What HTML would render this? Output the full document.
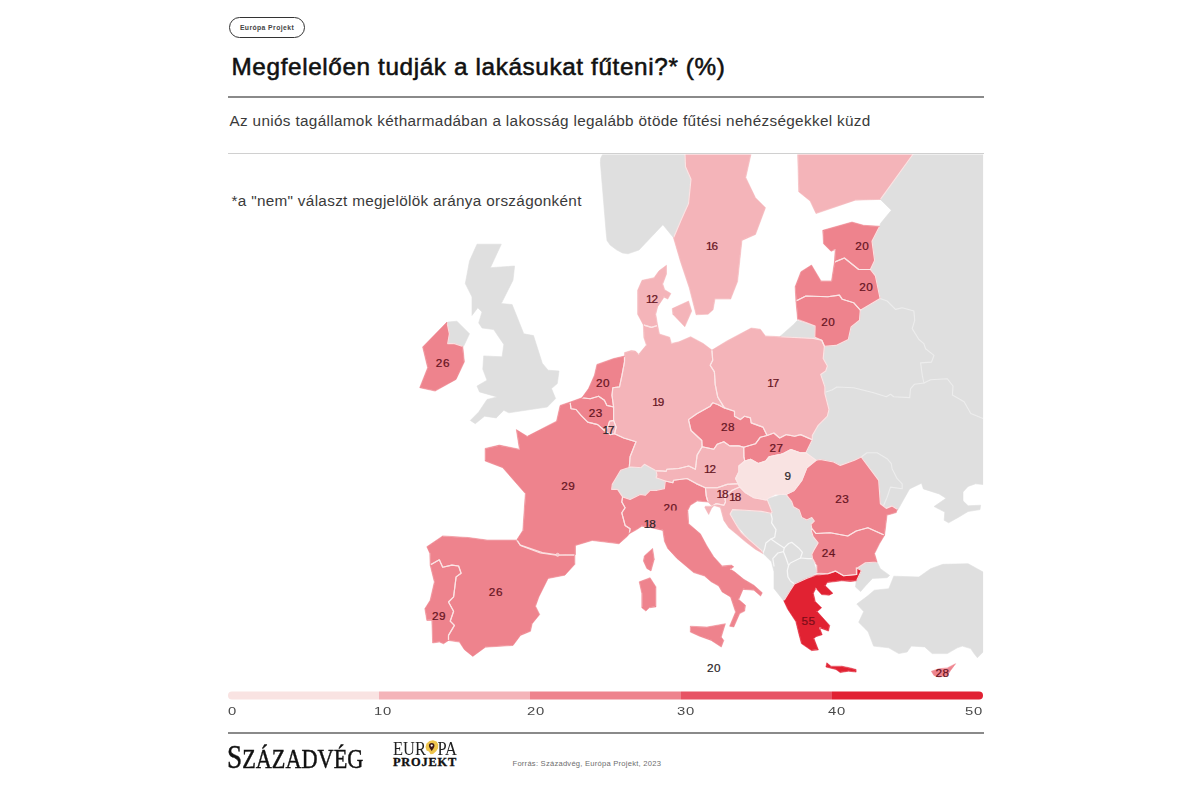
<!DOCTYPE html>
<html lang="hu"><head><meta charset="utf-8"><title>Megfelelően tudják a lakásukat fűteni?</title>
<style>
html,body{margin:0;padding:0;background:#fff;}
body{width:1200px;height:795px;position:relative;overflow:hidden;font-family:"Liberation Sans",sans-serif;color:#222;}
svg text{font-family:"Liberation Sans",sans-serif;}
.abs{position:absolute;white-space:nowrap;line-height:1;}
.pill{left:229px;top:17px;width:74px;height:19px;border:1px solid #333;border-radius:11px;}
.pilltxt{left:229px;top:17px;width:76px;height:21px;line-height:21px;text-align:center;font-size:6.8px;font-weight:bold;color:#444;letter-spacing:0.42px;}
.title{left:231.5px;top:55px;font-size:24.3px;font-weight:normal;color:#111;letter-spacing:0.62px;-webkit-text-stroke:0.55px #111;}
.r1{left:228px;top:96px;width:756px;height:2px;background:#8a8a8a;}
.sub{left:229.5px;top:113px;font-size:15.3px;color:#3a3a3a;letter-spacing:0.33px;}
.r2{left:228px;top:153.2px;width:756px;height:1.2px;background:#d0d0d0;}
.note{left:231.5px;top:193px;font-size:15.3px;color:#3a3a3a;letter-spacing:0.31px;}
.lg{top:706.2px;font-size:11.4px;color:#4a4a4a;letter-spacing:0.6px;transform:scaleX(1.3);transform-origin:0 0;}
.r3{left:228px;top:731.5px;width:756px;height:2px;background:#8a8a8a;}
.src{left:512.5px;top:760px;font-size:7.6px;color:#6e6e6e;letter-spacing:0.24px;}
.szv{left:227.3px;top:740.6px;font-family:"Liberation Serif",serif;color:#111;transform-origin:0 0;transform:scaleX(0.825);-webkit-text-stroke:0.45px #111;}
.ep1{left:392.5px;top:739.5px;font-family:"Liberation Serif",serif;font-size:18px;color:#222;transform-origin:0 0;transform:scaleX(0.915);}
.ep2{left:393px;top:756.2px;font-family:"Liberation Serif",serif;font-weight:bold;font-size:12.4px;color:#111;letter-spacing:0.78px;transform-origin:0 0;-webkit-text-stroke:0.35px #111;}
</style></head><body>
<svg width="1200" height="795" viewBox="0 0 1200 795" style="position:absolute;left:0;top:0">
<defs><clipPath id="mc"><rect x="228" y="154.5" width="755.2" height="530"/></clipPath><filter id="sf" x="-2%" y="-2%" width="104%" height="104%"><feGaussianBlur stdDeviation="0.45"/></filter></defs>
<defs><filter id="er" x="0" y="0" width="100%" height="100%" filterUnits="userSpaceOnUse"><feMorphology operator="erode" radius="1.1"/></filter>
<mask id="lm" maskUnits="userSpaceOnUse" x="0" y="0" width="1200" height="795"><g filter="url(#er)">
<polygon points="603.2,153.0 600.6,158.5 600.4,163.0 606.2,233.0 607.0,240.6 610.1,245.0 616.5,249.8 622.5,253.0 628.0,253.8 639.0,250.0 662.9,224.7 673.3,237.5 681.0,220.3 688.5,203.6 691.0,179.3 685.5,166.7 684.9,153.0" fill="#fff" stroke="#fff" stroke-width="0.8"/>
<polygon points="913.9,153.0 983.1,153.0 983.1,484.5 975.6,483.8 968.1,486.4 963.0,492.0 963.0,500.8 968.1,505.8 980.6,505.2 980.0,509.6 968.1,511.5 958.6,517.2 948.6,522.8 944.2,520.3 944.8,512.1 934.1,506.5 946.0,498.3 939.1,493.9 923.4,488.9 921.5,483.2 909.6,488.9 897.6,510.3 892.0,513.0 882.0,513.0 876.0,500.0 860.0,470.0 822.0,470.0 800.0,448.0 806.0,432.0 815.0,412.0 815.0,372.0 815.0,342.0 850.0,325.0 858.0,310.0 878.0,298.5 873.4,275.5 868.4,269.7 872.6,260.5 870.0,241.2 879.6,227.0 880.4,223.6 891.3,210.3 880.4,199.4" fill="#fff" stroke="#fff" stroke-width="0.8"/>
<polygon points="779.7,336.7 793.9,324.2 797.2,320.6 815.1,326.1 814.8,337.3 821.8,340.3 813.1,338.4" fill="#fff" stroke="#fff" stroke-width="0.8"/>
<polygon points="477.0,244.2 501.3,244.2 490.4,267.7 514.6,266.0 513.0,280.2 501.3,303.6 512.1,304.5 523.8,333.8 533.5,335.6 542.3,363.3 548.1,370.2 559.0,371.0 557.3,383.6 551.5,388.6 555.6,398.6 547.3,407.0 508.8,412.8 503.8,410.3 496.2,417.9 484.5,416.2 475.3,423.7 470.3,420.4 478.7,412.0 487.0,399.5 497.1,396.9 479.5,391.9 477.0,386.1 487.0,380.2 482.8,369.3 483.7,355.9 502.1,356.8 503.8,344.4 493.7,329.6 482.0,327.9 478.7,322.9 482.0,312.0 477.8,307.8 472.0,315.4 472.0,296.9 465.3,283.6 469.5,261.0" fill="#fff" stroke="#fff" stroke-width="0.8"/>
<polygon points="447.7,322.1 456.9,321.2 469.5,333.8 463.6,346.3 454.4,343.6 447.7,343.6 449.4,333.8" fill="#fff" stroke="#fff" stroke-width="0.8"/>
<polygon points="611.7,489.4 612.3,484.4 620.7,470.2 628.2,467.7 641.0,467.7 644.4,464.3 655.2,470.2 656.1,471.0 656.9,475.2 656.1,477.7 665.3,481.0 664.4,488.6 656.9,490.3 650.2,490.3 645.2,495.3 640.2,494.4 630.1,499.5 622.6,496.9 617.6,489.4" fill="#fff" stroke="#fff" stroke-width="0.8"/>
<polygon points="730.0,509.0 770.0,498.0 790.0,492.0 800.0,508.0 816.0,516.0 816.0,530.0 820.0,543.0 812.0,556.0 817.0,573.0 807.1,578.2 794.5,583.9 790.1,590.8 783.8,600.9 774.0,588.5 774.0,571.8 771.5,561.8 763.1,553.4 750.0,541.0 735.0,523.0 728.0,514.0" fill="#fff" stroke="#fff" stroke-width="0.8"/>
<polygon points="856.8,568.2 857.8,567.8 865.4,562.8 877.1,562.0 880.4,568.7 889.6,575.4 887.1,577.7 872.5,578.4 865.6,585.8 860.6,591.6 855.5,587.0 856.2,580.8 860.6,570.7" fill="#fff" stroke="#fff" stroke-width="0.8"/>
<polygon points="893.8,576.2 918.9,577.0 930.6,568.7 942.9,564.3 968.1,563.7 983.1,572.0 983.1,652.0 977.4,657.8 974.1,653.6 970.7,648.6 962.3,646.1 957.3,647.8 947.3,653.6 932.2,653.6 924.7,646.9 911.3,646.1 907.1,652.0 898.7,653.6 888.7,647.8 873.6,646.1 868.1,631.7 858.7,622.3 863.7,611.6 856.8,604.0 866.9,596.5 874.4,590.2 888.8,588.7" fill="#fff" stroke="#fff" stroke-width="0.8"/>
<polygon points="684.9,153.0 685.5,166.7 691.0,179.3 688.5,203.6 681.0,220.3 673.5,237.9 680.4,261.4 689.2,287.8 696.1,314.8 708.1,314.2 713.1,309.8 715.0,299.1 730.7,299.1 737.6,281.5 742.0,240.4 755.5,234.5 765.5,207.7 755.5,197.7 745.8,177.6 751.3,153.0" fill="#fff" stroke="#fff" stroke-width="0.8"/>
<polygon points="797.6,153.0 798.7,191.8 810.1,201.0 816.0,213.6 855.3,200.2 880.4,199.4 913.9,153.0" fill="#fff" stroke="#fff" stroke-width="0.8"/>
<polygon points="822.7,230.3 852.0,222.0 863.7,225.3 879.6,226.2 872.0,241.2 874.6,260.5 870.4,269.5 858.7,269.5 844.4,258.0 834.4,262.1 835.2,249.6 831.0,251.3 823.5,243.7" fill="#fff" stroke="#fff" stroke-width="0.8"/>
<polygon points="795.9,301.0 795.1,286.8 800.9,271.7 811.5,265.0 821.0,280.9 831.5,280.9 834.4,262.1 844.4,258.0 858.7,269.5 870.4,269.5 875.4,275.9 880.1,298.5 860.3,310.2 853.6,302.7 842.3,299.3 839.4,295.1 827.7,296.8 805.9,296.0" fill="#fff" stroke="#fff" stroke-width="0.8"/>
<polygon points="795.9,301.0 805.9,296.0 827.7,296.8 839.4,295.1 842.3,299.3 853.6,302.7 860.3,310.2 859.5,320.3 851.1,326.9 848.3,339.5 836.1,345.4 824.4,346.2 821.8,340.3 814.8,337.3 815.1,326.1 797.6,319.4" fill="#fff" stroke="#fff" stroke-width="0.8"/>
<polygon points="711.9,350.1 726.9,340.9 751.2,328.0 760.4,329.2 765.4,335.9 779.7,336.7 813.1,338.4 821.8,340.3 824.4,346.2 823.2,358.5 827.4,366.0 825.7,371.0 820.7,374.4 824.9,386.9 824.9,393.6 829.0,409.5 827.4,416.2 818.2,425.4 812.3,435.5 812.3,439.7 800.6,434.6 794.7,436.3 786.4,434.6 779.7,438.0 773.8,433.0 767.1,435.5 762.9,427.1 751.2,422.9 750.4,417.9 744.5,416.2 740.3,419.6 734.5,416.2 734.5,411.2 724.4,407.9 717.7,397.0 715.2,384.4 714.4,371.9 710.2,365.2 712.7,360.2" fill="#fff" stroke="#fff" stroke-width="0.8"/>
<polygon points="624.5,352.6 631.2,350.5 635.4,351.0 638.7,354.3 646.3,345.1 643.8,337.6 643.3,324.9 651.4,327.4 657.7,325.5 659.5,334.0 669.7,337.2 671.4,343.4 678.9,341.8 690.6,336.7 703.2,343.4 711.9,350.1 712.7,360.2 710.2,365.2 714.4,371.9 715.2,384.4 717.7,397.0 724.4,407.9 717.7,404.5 712.7,402.8 710.2,406.2 696.8,413.7 688.5,419.6 691.0,430.5 701.8,440.5 702.1,446.7 697.1,455.1 695.4,469.3 688.7,466.0 678.7,468.5 666.9,469.3 666.1,471.0 655.2,470.2 644.4,464.3 641.0,467.7 629.3,466.8 630.1,456.8 636.0,441.7 623.7,438.0 614.5,433.8 616.2,427.1 613.6,420.4 613.6,407.0 612.0,395.3 612.8,387.8 619.5,386.9 622.0,375.2 624.5,361.8" fill="#fff" stroke="#fff" stroke-width="0.8"/>
<polygon points="666.5,265.2 666.5,274.0 662.8,284.0 664.7,289.7 670.9,293.5 667.8,299.1 664.0,297.2 657.7,306.7 655.8,314.2 657.7,325.5 651.4,327.4 643.3,324.9 637.6,314.2 637.6,290.3 642.0,280.3 654.0,277.7 659.0,270.8" fill="#fff" stroke="#fff" stroke-width="0.8"/>
<polygon points="672.2,308.6 688.6,301.0 691.7,311.1 684.8,326.8 672.8,314.2" fill="#fff" stroke="#fff" stroke-width="0.8"/>
<polygon points="624.5,356.0 613.6,358.5 596.9,364.4 594.4,375.2 588.5,388.6 581.8,397.8 590.2,398.7 598.6,396.2 604.4,400.3 606.9,405.4 613.6,407.0 612.0,395.3 612.8,387.8 619.5,386.9 622.0,375.2 624.5,361.8" fill="#fff" stroke="#fff" stroke-width="0.8"/>
<polygon points="581.8,397.8 570.1,402.0 571.0,408.7 576.0,409.5 581.0,415.4 587.7,422.1 597.7,424.6 604.4,430.5 607.8,427.1 609.5,421.3 613.6,420.4 613.6,407.0 606.9,405.4 604.4,400.3 598.6,396.2 590.2,398.7" fill="#fff" stroke="#fff" stroke-width="0.8"/>
<polygon points="609.5,421.3 613.6,420.4 616.2,427.1 614.5,433.8 610.3,434.6 604.4,430.5 607.8,427.1" fill="#fff" stroke="#fff" stroke-width="0.8"/>
<polygon points="570.1,402.0 560.1,405.4 556.5,421.2 527.2,436.3 516.3,429.6 519.4,449.2 499.3,445.1 485.1,448.4 485.1,461.0 502.7,467.7 513.6,480.2 525.3,493.6 522.8,530.4 516.9,539.6 520.3,545.5 540.3,553.0 556.2,555.2 575.5,554.7 575.5,545.5 592.2,540.5 619.0,543.8 627.4,536.3 629.3,533.8 630.1,528.7 625.1,525.4 621.8,512.8 625.1,507.8 621.8,502.0 622.6,496.9 617.6,489.4 611.7,489.4 612.3,484.4 620.7,470.2 628.2,467.7 629.3,466.8 630.1,456.8 636.0,441.7 623.7,438.0 614.5,433.8 610.3,434.6 604.4,430.5 597.7,424.6 587.7,422.1 581.0,415.4 576.0,409.5 571.0,408.7" fill="#fff" stroke="#fff" stroke-width="0.8"/>
<polygon points="644.3,555.9 652.6,548.4 654.3,559.2 651.0,571.0 646.8,568.5 643.4,560.9" fill="#fff" stroke="#fff" stroke-width="0.8"/>
<polygon points="426.8,546.7 442.7,535.9 468.6,537.5 487.0,540.0 516.3,540.0 520.5,545.1 542.3,552.6 557.3,554.8 574.9,555.1 574.9,564.3 564.9,575.2 548.1,578.5 538.9,596.9 535.6,606.2 539.7,614.5 532.2,623.7 530.5,631.3 520.5,635.4 513.0,645.5 485.4,647.2 472.8,656.4 464.4,649.7 459.4,642.1 448.5,640.5 448.5,635.4 454.4,625.4 450.2,621.2 453.6,611.2 448.5,602.0 453.6,596.9 456.1,576.9 461.1,573.2 458.6,566.0 451.9,565.1 442.7,567.2 439.3,559.8 430.1,565.1 429.8,553.4" fill="#fff" stroke="#fff" stroke-width="0.8"/>
<polygon points="430.1,565.1 439.3,559.8 442.7,567.2 451.9,565.1 458.6,566.0 461.1,573.2 456.1,576.9 453.6,596.9 448.5,602.0 453.6,611.2 450.2,621.2 454.4,625.4 448.5,635.4 448.5,640.5 443.5,643.8 439.3,642.1 432.6,643.0 431.8,620.4 426.8,620.4 424.8,608.7 430.1,600.3 434.3,581.9" fill="#fff" stroke="#fff" stroke-width="0.8"/>
<polygon points="446.9,322.1 422.6,347.0 427.6,367.7 419.7,387.7 435.1,391.1 456.1,379.4 464.4,361.8 462.8,346.5 454.4,343.6 447.7,343.6 449.4,333.8" fill="#fff" stroke="#fff" stroke-width="0.8"/>
<polygon points="688.5,419.6 696.8,413.7 710.2,406.2 712.7,402.8 717.7,404.5 724.4,407.9 734.5,411.2 734.5,416.2 740.3,419.6 744.5,416.2 750.4,417.9 751.2,422.9 762.9,427.1 767.1,435.5 760.4,437.2 755.4,443.8 743.7,447.2 738.9,445.9 729.7,445.9 723.8,441.7 717.2,444.2 713.8,449.2 702.1,446.7 701.8,440.5 691.0,430.5" fill="#fff" stroke="#fff" stroke-width="0.8"/>
<polygon points="743.7,447.2 755.4,443.8 760.4,437.2 767.1,435.5 773.8,433.0 779.7,438.0 786.4,434.6 794.7,436.3 800.6,434.6 812.3,439.7 805.9,452.8 800.1,452.8 790.9,449.5 783.3,453.6 780.8,454.3 769.0,456.8 765.7,461.0 758.2,463.5 750.6,459.3 744.8,461.0 743.9,456.8" fill="#fff" stroke="#fff" stroke-width="0.8"/>
<polygon points="744.8,461.0 750.6,459.3 758.2,463.5 765.7,461.0 769.0,456.8 780.8,454.3 783.3,453.6 790.9,449.5 800.1,452.8 805.9,452.8 816.0,460.3 806.8,467.9 801.8,480.4 794.2,490.5 786.0,494.4 775.5,494.5 769.5,497.5 766.0,500.0 754.0,497.8 745.6,492.8 739.7,486.9 738.1,483.6 735.6,478.5 738.9,471.8 738.9,466.0" fill="#fff" stroke="#fff" stroke-width="0.8"/>
<polygon points="656.1,471.0 666.1,471.5 666.9,469.3 678.7,468.5 688.7,466.0 695.4,469.3 697.1,455.1 702.1,446.7 713.8,449.2 717.2,444.2 723.8,441.7 729.7,445.9 738.9,445.9 743.7,447.2 743.9,456.8 744.8,461.0 738.9,466.0 738.9,471.8 735.6,478.5 738.1,483.6 727.2,484.4 717.2,487.7 705.4,487.7 696.2,483.6 687.0,478.5 673.6,480.2 672.8,482.7 665.3,481.0 656.1,477.7 656.9,475.2" fill="#fff" stroke="#fff" stroke-width="0.8"/>
<polygon points="622.6,496.9 630.1,499.5 640.2,494.4 645.2,495.3 650.2,490.3 656.9,490.3 664.4,488.6 665.3,481.0 672.8,482.7 673.6,480.2 687.0,478.5 696.2,483.6 705.4,487.7 706.3,496.1 708.0,502.0 697.1,501.1 690.4,505.3 687.9,510.3 688.7,523.7 700.4,533.8 707.0,546.0 713.7,556.7 722.1,565.9 731.3,565.1 733.8,566.8 730.5,569.3 734.6,571.8 743.8,579.3 753.9,585.2 762.3,592.7 760.6,596.1 753.9,590.2 743.0,589.4 738.8,599.4 745.5,605.3 744.7,611.1 739.7,613.6 733.8,627.0 729.6,626.2 735.5,612.0 730.5,596.9 722.1,591.9 718.7,586.0 711.2,581.8 704.5,576.0 693.6,572.6 676.9,558.4 667.7,548.4 664.4,541.3 662.8,530.4 651.9,527.9 641.8,526.2 636.8,529.6 629.3,533.8 630.1,528.7 625.1,525.4 621.8,512.8 625.1,507.8 621.8,502.0" fill="#fff" stroke="#fff" stroke-width="0.8"/>
<polygon points="690.3,626.2 707.0,627.0 725.4,623.7 721.3,637.1 723.8,640.4 721.3,647.1 711.2,640.4 699.5,636.2 690.3,632.1" fill="#fff" stroke="#fff" stroke-width="0.8"/>
<polygon points="639.2,581.8 650.1,577.7 656.0,586.9 656.0,606.9 649.3,607.8 645.9,611.1 641.8,607.8 641.8,593.6" fill="#fff" stroke="#fff" stroke-width="0.8"/>
<polygon points="705.4,487.7 717.2,487.7 727.2,484.4 738.1,483.6 739.7,486.9 732.2,490.3 724.7,496.9 725.5,502.0 723.8,505.3 716.3,503.6 712.1,506.2 708.0,502.0 706.3,496.1" fill="#fff" stroke="#fff" stroke-width="0.8"/>
<polygon points="739.7,486.9 745.6,492.8 754.0,497.8 766.0,500.0 767.2,499.5 769.7,505.8 772.2,512.1 770.9,513.3 761.5,511.4 745.2,510.2 732.6,509.6 730.1,514.0 735.1,522.8 740.8,532.2 751.4,541.6 761.5,550.4 762.8,553.6 755.2,549.2 745.2,541.6 736.4,534.1 728.8,527.8 723.8,520.4 720.3,507.4 714.0,505.6 711.6,508.2 708.7,514.5 704.8,507.5 705.4,506.2 712.1,506.2 716.3,503.6 723.8,505.3 725.5,502.0 724.7,496.9 732.2,490.3" fill="#fff" stroke="#fff" stroke-width="0.8"/>
<polygon points="786.0,494.4 794.2,490.5 801.8,480.4 806.8,467.9 816.0,460.3 820.2,459.5 833.6,462.0 840.3,465.4 854.5,460.3 861.2,457.0 878.7,480.4 880.4,503.8 886.3,508.4 892.1,505.9 897.2,509.2 896.3,512.6 890.5,514.3 887.1,515.1 884.6,535.2 867.9,527.7 856.2,531.0 847.8,536.0 830.2,532.7 816.0,533.5 811.8,528.5 811.0,524.3 814.3,521.0 811.8,517.6 806.8,520.1 801.8,517.6 799.2,510.1 793.4,506.7 791.7,501.7" fill="#fff" stroke="#fff" stroke-width="0.8"/>
<polygon points="811.8,528.5 816.0,533.5 830.2,532.7 847.8,536.0 856.2,531.0 867.9,527.7 884.6,535.2 879.6,543.6 874.6,553.6 877.1,562.0 865.4,562.8 857.8,567.8 856.8,568.2 856.8,574.5 843.6,575.7 835.4,571.1 827.9,573.8 816.9,573.0 816.9,565.5 812.5,558.6 811.8,554.2 813.7,550.4 818.1,542.9 813.1,536.6 811.2,530.3" fill="#fff" stroke="#fff" stroke-width="0.8"/>
<polygon points="783.8,600.9 790.1,590.8 794.5,583.9 807.1,578.2 815.9,575.1 827.9,573.8 835.4,571.1 843.6,575.7 856.4,574.5 856.2,567.7 861.4,570.5 856.6,580.8 850.5,581.4 841.7,580.8 827.2,582.6 825.3,585.8 832.9,593.3 829.1,595.2 821.6,594.6 815.9,588.3 813.4,593.3 815.3,601.5 821.6,607.8 817.2,611.6 829.7,625.4 828.5,631.1 819.7,627.9 822.2,634.8 815.9,636.7 814.0,638.6 818.4,649.9 811.5,650.6 801.4,643.6 798.9,634.2 795.8,621.6 787.6,609.1" fill="#fff" stroke="#fff" stroke-width="0.8"/>
<polygon points="826.8,662.8 831.0,666.2 841.8,666.2 850.2,667.9 856.1,669.5 856.1,672.1 848.5,671.2 840.2,672.6 836.0,669.5 825.9,667.0" fill="#fff" stroke="#fff" stroke-width="0.8"/>
<polygon points="931.4,671.2 938.9,668.7 947.3,667.9 955.6,663.7 950.6,670.4 947.3,675.4 938.9,677.1 933.9,675.4" fill="#fff" stroke="#fff" stroke-width="0.8"/>
</g></mask></defs>
<g clip-path="url(#mc)"><g filter="url(#sf)">
<polygon points="603.2,153.0 600.6,158.5 600.4,163.0 606.2,233.0 607.0,240.6 610.1,245.0 616.5,249.8 622.5,253.0 628.0,253.8 639.0,250.0 662.9,224.7 673.3,237.5 681.0,220.3 688.5,203.6 691.0,179.3 685.5,166.7 684.9,153.0" fill="#dfdfdf" stroke="#dfdfdf" stroke-width="0.6" stroke-linejoin="round"/>
<polygon points="913.9,153.0 983.1,153.0 983.1,484.5 975.6,483.8 968.1,486.4 963.0,492.0 963.0,500.8 968.1,505.8 980.6,505.2 980.0,509.6 968.1,511.5 958.6,517.2 948.6,522.8 944.2,520.3 944.8,512.1 934.1,506.5 946.0,498.3 939.1,493.9 923.4,488.9 921.5,483.2 909.6,488.9 897.6,510.3 892.0,513.0 882.0,513.0 876.0,500.0 860.0,470.0 822.0,470.0 800.0,448.0 806.0,432.0 815.0,412.0 815.0,372.0 815.0,342.0 850.0,325.0 858.0,310.0 878.0,298.5 873.4,275.5 868.4,269.7 872.6,260.5 870.0,241.2 879.6,227.0 880.4,223.6 891.3,210.3 880.4,199.4" fill="#dfdfdf" stroke="#dfdfdf" stroke-width="0.6" stroke-linejoin="round"/>
<polygon points="779.7,336.7 793.9,324.2 797.2,320.6 815.1,326.1 814.8,337.3 821.8,340.3 813.1,338.4" fill="#dfdfdf" stroke="#dfdfdf" stroke-width="0.6" stroke-linejoin="round"/>
<polygon points="477.0,244.2 501.3,244.2 490.4,267.7 514.6,266.0 513.0,280.2 501.3,303.6 512.1,304.5 523.8,333.8 533.5,335.6 542.3,363.3 548.1,370.2 559.0,371.0 557.3,383.6 551.5,388.6 555.6,398.6 547.3,407.0 508.8,412.8 503.8,410.3 496.2,417.9 484.5,416.2 475.3,423.7 470.3,420.4 478.7,412.0 487.0,399.5 497.1,396.9 479.5,391.9 477.0,386.1 487.0,380.2 482.8,369.3 483.7,355.9 502.1,356.8 503.8,344.4 493.7,329.6 482.0,327.9 478.7,322.9 482.0,312.0 477.8,307.8 472.0,315.4 472.0,296.9 465.3,283.6 469.5,261.0" fill="#dfdfdf" stroke="#dfdfdf" stroke-width="0.6" stroke-linejoin="round"/>
<polygon points="447.7,322.1 456.9,321.2 469.5,333.8 463.6,346.3 454.4,343.6 447.7,343.6 449.4,333.8" fill="#dfdfdf" stroke="#dfdfdf" stroke-width="0.6" stroke-linejoin="round"/>
<polygon points="611.7,489.4 612.3,484.4 620.7,470.2 628.2,467.7 641.0,467.7 644.4,464.3 655.2,470.2 656.1,471.0 656.9,475.2 656.1,477.7 665.3,481.0 664.4,488.6 656.9,490.3 650.2,490.3 645.2,495.3 640.2,494.4 630.1,499.5 622.6,496.9 617.6,489.4" fill="#dfdfdf" stroke="#dfdfdf" stroke-width="0.6" stroke-linejoin="round"/>
<polygon points="730.0,509.0 770.0,498.0 790.0,492.0 800.0,508.0 816.0,516.0 816.0,530.0 820.0,543.0 812.0,556.0 817.0,573.0 807.1,578.2 794.5,583.9 790.1,590.8 783.8,600.9 774.0,588.5 774.0,571.8 771.5,561.8 763.1,553.4 750.0,541.0 735.0,523.0 728.0,514.0" fill="#dfdfdf" stroke="#dfdfdf" stroke-width="0.6" stroke-linejoin="round"/>
<polygon points="856.8,568.2 857.8,567.8 865.4,562.8 877.1,562.0 880.4,568.7 889.6,575.4 887.1,577.7 872.5,578.4 865.6,585.8 860.6,591.6 855.5,587.0 856.2,580.8 860.6,570.7" fill="#dfdfdf" stroke="#dfdfdf" stroke-width="0.6" stroke-linejoin="round"/>
<polygon points="893.8,576.2 918.9,577.0 930.6,568.7 942.9,564.3 968.1,563.7 983.1,572.0 983.1,652.0 977.4,657.8 974.1,653.6 970.7,648.6 962.3,646.1 957.3,647.8 947.3,653.6 932.2,653.6 924.7,646.9 911.3,646.1 907.1,652.0 898.7,653.6 888.7,647.8 873.6,646.1 868.1,631.7 858.7,622.3 863.7,611.6 856.8,604.0 866.9,596.5 874.4,590.2 888.8,588.7" fill="#dfdfdf" stroke="#dfdfdf" stroke-width="0.6" stroke-linejoin="round"/>
<polyline points="880.1,298.5 887.1,301.0 895.5,309.4 902.2,307.7 913.9,311.0 914.7,320.3 912.2,328.6 918.9,339.5 923.9,343.7 925.6,348.7 934.0,355.4 931.5,362.1 920.6,362.9 922.3,375.5 923.9,383.0" fill="none" stroke="#ededed" stroke-width="1.1" stroke-linejoin="round" stroke-linecap="round"/>
<polyline points="826.0,392.0 831.9,390.0 836.9,387.0 853.6,387.7 873.7,392.7 886.3,396.7 890.5,394.2 893.8,396.7 909.7,397.6 910.5,388.8 914.5,384.2 923.9,383.0 930.6,379.7 947.4,378.8 953.0,386.0 952.4,395.1 964.1,401.8 970.8,413.5 983.0,418.5" fill="none" stroke="#ededed" stroke-width="1.1" stroke-linejoin="round" stroke-linecap="round"/>
<polyline points="861.2,457.0 867.0,452.8 877.1,452.8 887.1,458.7 891.3,463.7 892.1,468.7 897.2,478.7 902.2,483.8 902.2,488.8 890.5,487.1 887.1,497.2 882.9,507.2" fill="none" stroke="#ededed" stroke-width="1.1" stroke-linejoin="round" stroke-linecap="round"/>
<polyline points="770.9,513.3 772.2,519.0 771.6,522.8 776.0,529.7 774.7,537.2 770.9,539.1 765.9,542.9 764.7,548.6 762.8,553.6" fill="none" stroke="#f7f7f7" stroke-width="1.25" stroke-linejoin="round" stroke-linecap="round"/>
<polyline points="770.9,539.1 776.6,542.9 784.2,547.9 783.5,551.7 777.9,553.0 772.8,558.6 774.0,566.0" fill="none" stroke="#f7f7f7" stroke-width="1.25" stroke-linejoin="round" stroke-linecap="round"/>
<polyline points="784.2,547.9 788.6,543.5 791.7,542.3 798.6,547.9 802.4,552.3 800.5,558.0 790.4,563.0 788.6,565.5 786.0,558.0 783.5,551.7" fill="none" stroke="#f7f7f7" stroke-width="1.25" stroke-linejoin="round" stroke-linecap="round"/>
<polyline points="800.5,558.0 808.1,558.6 812.5,558.6" fill="none" stroke="#f7f7f7" stroke-width="1.25" stroke-linejoin="round" stroke-linecap="round"/>
<polyline points="788.6,565.5 787.3,570.6 787.9,576.9 790.4,581.0 794.5,583.9" fill="none" stroke="#f7f7f7" stroke-width="1.25" stroke-linejoin="round" stroke-linecap="round"/>
<polygon points="684.9,153.0 685.5,166.7 691.0,179.3 688.5,203.6 681.0,220.3 673.5,237.9 680.4,261.4 689.2,287.8 696.1,314.8 708.1,314.2 713.1,309.8 715.0,299.1 730.7,299.1 737.6,281.5 742.0,240.4 755.5,234.5 765.5,207.7 755.5,197.7 745.8,177.6 751.3,153.0" fill="#f4b4b9" stroke="#f4b4b9" stroke-width="0.5" stroke-linejoin="round"/>
<polygon points="797.6,153.0 798.7,191.8 810.1,201.0 816.0,213.6 855.3,200.2 880.4,199.4 913.9,153.0" fill="#f4b4b9" stroke="#f4b4b9" stroke-width="0.5" stroke-linejoin="round"/>
<polygon points="822.7,230.3 852.0,222.0 863.7,225.3 879.6,226.2 872.0,241.2 874.6,260.5 870.4,269.5 858.7,269.5 844.4,258.0 834.4,262.1 835.2,249.6 831.0,251.3 823.5,243.7" fill="#ee838d" stroke="#ee838d" stroke-width="0.5" stroke-linejoin="round"/>
<polygon points="795.9,301.0 795.1,286.8 800.9,271.7 811.5,265.0 821.0,280.9 831.5,280.9 834.4,262.1 844.4,258.0 858.7,269.5 870.4,269.5 875.4,275.9 880.1,298.5 860.3,310.2 853.6,302.7 842.3,299.3 839.4,295.1 827.7,296.8 805.9,296.0" fill="#ee838d" stroke="#ee838d" stroke-width="0.5" stroke-linejoin="round"/>
<polygon points="795.9,301.0 805.9,296.0 827.7,296.8 839.4,295.1 842.3,299.3 853.6,302.7 860.3,310.2 859.5,320.3 851.1,326.9 848.3,339.5 836.1,345.4 824.4,346.2 821.8,340.3 814.8,337.3 815.1,326.1 797.6,319.4" fill="#ee838d" stroke="#ee838d" stroke-width="0.5" stroke-linejoin="round"/>
<polygon points="711.9,350.1 726.9,340.9 751.2,328.0 760.4,329.2 765.4,335.9 779.7,336.7 813.1,338.4 821.8,340.3 824.4,346.2 823.2,358.5 827.4,366.0 825.7,371.0 820.7,374.4 824.9,386.9 824.9,393.6 829.0,409.5 827.4,416.2 818.2,425.4 812.3,435.5 812.3,439.7 800.6,434.6 794.7,436.3 786.4,434.6 779.7,438.0 773.8,433.0 767.1,435.5 762.9,427.1 751.2,422.9 750.4,417.9 744.5,416.2 740.3,419.6 734.5,416.2 734.5,411.2 724.4,407.9 717.7,397.0 715.2,384.4 714.4,371.9 710.2,365.2 712.7,360.2" fill="#f4b4b9" stroke="#f4b4b9" stroke-width="0.5" stroke-linejoin="round"/>
<polygon points="624.5,352.6 631.2,350.5 635.4,351.0 638.7,354.3 646.3,345.1 643.8,337.6 643.3,324.9 651.4,327.4 657.7,325.5 659.5,334.0 669.7,337.2 671.4,343.4 678.9,341.8 690.6,336.7 703.2,343.4 711.9,350.1 712.7,360.2 710.2,365.2 714.4,371.9 715.2,384.4 717.7,397.0 724.4,407.9 717.7,404.5 712.7,402.8 710.2,406.2 696.8,413.7 688.5,419.6 691.0,430.5 701.8,440.5 702.1,446.7 697.1,455.1 695.4,469.3 688.7,466.0 678.7,468.5 666.9,469.3 666.1,471.0 655.2,470.2 644.4,464.3 641.0,467.7 629.3,466.8 630.1,456.8 636.0,441.7 623.7,438.0 614.5,433.8 616.2,427.1 613.6,420.4 613.6,407.0 612.0,395.3 612.8,387.8 619.5,386.9 622.0,375.2 624.5,361.8" fill="#f4b4b9" stroke="#f4b4b9" stroke-width="0.5" stroke-linejoin="round"/>
<polygon points="666.5,265.2 666.5,274.0 662.8,284.0 664.7,289.7 670.9,293.5 667.8,299.1 664.0,297.2 657.7,306.7 655.8,314.2 657.7,325.5 651.4,327.4 643.3,324.9 637.6,314.2 637.6,290.3 642.0,280.3 654.0,277.7 659.0,270.8" fill="#f4b4b9" stroke="#f4b4b9" stroke-width="0.5" stroke-linejoin="round"/>
<polygon points="672.2,308.6 688.6,301.0 691.7,311.1 684.8,326.8 672.8,314.2" fill="#f4b4b9" stroke="#f4b4b9" stroke-width="0.5" stroke-linejoin="round"/>
<polygon points="624.5,356.0 613.6,358.5 596.9,364.4 594.4,375.2 588.5,388.6 581.8,397.8 590.2,398.7 598.6,396.2 604.4,400.3 606.9,405.4 613.6,407.0 612.0,395.3 612.8,387.8 619.5,386.9 622.0,375.2 624.5,361.8" fill="#ee838d" stroke="#ee838d" stroke-width="0.5" stroke-linejoin="round"/>
<polygon points="581.8,397.8 570.1,402.0 571.0,408.7 576.0,409.5 581.0,415.4 587.7,422.1 597.7,424.6 604.4,430.5 607.8,427.1 609.5,421.3 613.6,420.4 613.6,407.0 606.9,405.4 604.4,400.3 598.6,396.2 590.2,398.7" fill="#ee838d" stroke="#ee838d" stroke-width="0.5" stroke-linejoin="round"/>
<polygon points="609.5,421.3 613.6,420.4 616.2,427.1 614.5,433.8 610.3,434.6 604.4,430.5 607.8,427.1" fill="#f4b4b9" stroke="#f4b4b9" stroke-width="0.5" stroke-linejoin="round"/>
<polygon points="570.1,402.0 560.1,405.4 556.5,421.2 527.2,436.3 516.3,429.6 519.4,449.2 499.3,445.1 485.1,448.4 485.1,461.0 502.7,467.7 513.6,480.2 525.3,493.6 522.8,530.4 516.9,539.6 520.3,545.5 540.3,553.0 556.2,555.2 575.5,554.7 575.5,545.5 592.2,540.5 619.0,543.8 627.4,536.3 629.3,533.8 630.1,528.7 625.1,525.4 621.8,512.8 625.1,507.8 621.8,502.0 622.6,496.9 617.6,489.4 611.7,489.4 612.3,484.4 620.7,470.2 628.2,467.7 629.3,466.8 630.1,456.8 636.0,441.7 623.7,438.0 614.5,433.8 610.3,434.6 604.4,430.5 597.7,424.6 587.7,422.1 581.0,415.4 576.0,409.5 571.0,408.7" fill="#ee838d" stroke="#ee838d" stroke-width="0.5" stroke-linejoin="round"/>
<polygon points="644.3,555.9 652.6,548.4 654.3,559.2 651.0,571.0 646.8,568.5 643.4,560.9" fill="#ee838d" stroke="#ee838d" stroke-width="0.5" stroke-linejoin="round"/>
<polygon points="426.8,546.7 442.7,535.9 468.6,537.5 487.0,540.0 516.3,540.0 520.5,545.1 542.3,552.6 557.3,554.8 574.9,555.1 574.9,564.3 564.9,575.2 548.1,578.5 538.9,596.9 535.6,606.2 539.7,614.5 532.2,623.7 530.5,631.3 520.5,635.4 513.0,645.5 485.4,647.2 472.8,656.4 464.4,649.7 459.4,642.1 448.5,640.5 448.5,635.4 454.4,625.4 450.2,621.2 453.6,611.2 448.5,602.0 453.6,596.9 456.1,576.9 461.1,573.2 458.6,566.0 451.9,565.1 442.7,567.2 439.3,559.8 430.1,565.1 429.8,553.4" fill="#ee838d" stroke="#ee838d" stroke-width="0.5" stroke-linejoin="round"/>
<polygon points="430.1,565.1 439.3,559.8 442.7,567.2 451.9,565.1 458.6,566.0 461.1,573.2 456.1,576.9 453.6,596.9 448.5,602.0 453.6,611.2 450.2,621.2 454.4,625.4 448.5,635.4 448.5,640.5 443.5,643.8 439.3,642.1 432.6,643.0 431.8,620.4 426.8,620.4 424.8,608.7 430.1,600.3 434.3,581.9" fill="#ee838d" stroke="#ee838d" stroke-width="0.5" stroke-linejoin="round"/>
<polygon points="446.9,322.1 422.6,347.0 427.6,367.7 419.7,387.7 435.1,391.1 456.1,379.4 464.4,361.8 462.8,346.5 454.4,343.6 447.7,343.6 449.4,333.8" fill="#ee838d" stroke="#ee838d" stroke-width="0.5" stroke-linejoin="round"/>
<polygon points="688.5,419.6 696.8,413.7 710.2,406.2 712.7,402.8 717.7,404.5 724.4,407.9 734.5,411.2 734.5,416.2 740.3,419.6 744.5,416.2 750.4,417.9 751.2,422.9 762.9,427.1 767.1,435.5 760.4,437.2 755.4,443.8 743.7,447.2 738.9,445.9 729.7,445.9 723.8,441.7 717.2,444.2 713.8,449.2 702.1,446.7 701.8,440.5 691.0,430.5" fill="#ee838d" stroke="#ee838d" stroke-width="0.5" stroke-linejoin="round"/>
<polygon points="743.7,447.2 755.4,443.8 760.4,437.2 767.1,435.5 773.8,433.0 779.7,438.0 786.4,434.6 794.7,436.3 800.6,434.6 812.3,439.7 805.9,452.8 800.1,452.8 790.9,449.5 783.3,453.6 780.8,454.3 769.0,456.8 765.7,461.0 758.2,463.5 750.6,459.3 744.8,461.0 743.9,456.8" fill="#ee838d" stroke="#ee838d" stroke-width="0.5" stroke-linejoin="round"/>
<polygon points="744.8,461.0 750.6,459.3 758.2,463.5 765.7,461.0 769.0,456.8 780.8,454.3 783.3,453.6 790.9,449.5 800.1,452.8 805.9,452.8 816.0,460.3 806.8,467.9 801.8,480.4 794.2,490.5 786.0,494.4 775.5,494.5 769.5,497.5 766.0,500.0 754.0,497.8 745.6,492.8 739.7,486.9 738.1,483.6 735.6,478.5 738.9,471.8 738.9,466.0" fill="#f9e3e2" stroke="#f9e3e2" stroke-width="0.5" stroke-linejoin="round"/>
<polygon points="656.1,471.0 666.1,471.5 666.9,469.3 678.7,468.5 688.7,466.0 695.4,469.3 697.1,455.1 702.1,446.7 713.8,449.2 717.2,444.2 723.8,441.7 729.7,445.9 738.9,445.9 743.7,447.2 743.9,456.8 744.8,461.0 738.9,466.0 738.9,471.8 735.6,478.5 738.1,483.6 727.2,484.4 717.2,487.7 705.4,487.7 696.2,483.6 687.0,478.5 673.6,480.2 672.8,482.7 665.3,481.0 656.1,477.7 656.9,475.2" fill="#f4b4b9" stroke="#f4b4b9" stroke-width="0.5" stroke-linejoin="round"/>
<polygon points="622.6,496.9 630.1,499.5 640.2,494.4 645.2,495.3 650.2,490.3 656.9,490.3 664.4,488.6 665.3,481.0 672.8,482.7 673.6,480.2 687.0,478.5 696.2,483.6 705.4,487.7 706.3,496.1 708.0,502.0 697.1,501.1 690.4,505.3 687.9,510.3 688.7,523.7 700.4,533.8 707.0,546.0 713.7,556.7 722.1,565.9 731.3,565.1 733.8,566.8 730.5,569.3 734.6,571.8 743.8,579.3 753.9,585.2 762.3,592.7 760.6,596.1 753.9,590.2 743.0,589.4 738.8,599.4 745.5,605.3 744.7,611.1 739.7,613.6 733.8,627.0 729.6,626.2 735.5,612.0 730.5,596.9 722.1,591.9 718.7,586.0 711.2,581.8 704.5,576.0 693.6,572.6 676.9,558.4 667.7,548.4 664.4,541.3 662.8,530.4 651.9,527.9 641.8,526.2 636.8,529.6 629.3,533.8 630.1,528.7 625.1,525.4 621.8,512.8 625.1,507.8 621.8,502.0" fill="#ee838d" stroke="#ee838d" stroke-width="0.5" stroke-linejoin="round"/>
<polygon points="690.3,626.2 707.0,627.0 725.4,623.7 721.3,637.1 723.8,640.4 721.3,647.1 711.2,640.4 699.5,636.2 690.3,632.1" fill="#ee838d" stroke="#ee838d" stroke-width="0.5" stroke-linejoin="round"/>
<polygon points="639.2,581.8 650.1,577.7 656.0,586.9 656.0,606.9 649.3,607.8 645.9,611.1 641.8,607.8 641.8,593.6" fill="#ee838d" stroke="#ee838d" stroke-width="0.5" stroke-linejoin="round"/>
<polygon points="705.4,487.7 717.2,487.7 727.2,484.4 738.1,483.6 739.7,486.9 732.2,490.3 724.7,496.9 725.5,502.0 723.8,505.3 716.3,503.6 712.1,506.2 708.0,502.0 706.3,496.1" fill="#f4b4b9" stroke="#f4b4b9" stroke-width="0.5" stroke-linejoin="round"/>
<polygon points="739.7,486.9 745.6,492.8 754.0,497.8 766.0,500.0 767.2,499.5 769.7,505.8 772.2,512.1 770.9,513.3 761.5,511.4 745.2,510.2 732.6,509.6 730.1,514.0 735.1,522.8 740.8,532.2 751.4,541.6 761.5,550.4 762.8,553.6 755.2,549.2 745.2,541.6 736.4,534.1 728.8,527.8 723.8,520.4 720.3,507.4 714.0,505.6 711.6,508.2 708.7,514.5 704.8,507.5 705.4,506.2 712.1,506.2 716.3,503.6 723.8,505.3 725.5,502.0 724.7,496.9 732.2,490.3" fill="#f4b4b9" stroke="#f4b4b9" stroke-width="0.5" stroke-linejoin="round"/>
<polygon points="786.0,494.4 794.2,490.5 801.8,480.4 806.8,467.9 816.0,460.3 820.2,459.5 833.6,462.0 840.3,465.4 854.5,460.3 861.2,457.0 878.7,480.4 880.4,503.8 886.3,508.4 892.1,505.9 897.2,509.2 896.3,512.6 890.5,514.3 887.1,515.1 884.6,535.2 867.9,527.7 856.2,531.0 847.8,536.0 830.2,532.7 816.0,533.5 811.8,528.5 811.0,524.3 814.3,521.0 811.8,517.6 806.8,520.1 801.8,517.6 799.2,510.1 793.4,506.7 791.7,501.7" fill="#ee838d" stroke="#ee838d" stroke-width="0.5" stroke-linejoin="round"/>
<polygon points="811.8,528.5 816.0,533.5 830.2,532.7 847.8,536.0 856.2,531.0 867.9,527.7 884.6,535.2 879.6,543.6 874.6,553.6 877.1,562.0 865.4,562.8 857.8,567.8 856.8,568.2 856.8,574.5 843.6,575.7 835.4,571.1 827.9,573.8 816.9,573.0 816.9,565.5 812.5,558.6 811.8,554.2 813.7,550.4 818.1,542.9 813.1,536.6 811.2,530.3" fill="#ee838d" stroke="#ee838d" stroke-width="0.5" stroke-linejoin="round"/>
<polygon points="783.8,600.9 790.1,590.8 794.5,583.9 807.1,578.2 815.9,575.1 827.9,573.8 835.4,571.1 843.6,575.7 856.4,574.5 856.2,567.7 861.4,570.5 856.6,580.8 850.5,581.4 841.7,580.8 827.2,582.6 825.3,585.8 832.9,593.3 829.1,595.2 821.6,594.6 815.9,588.3 813.4,593.3 815.3,601.5 821.6,607.8 817.2,611.6 829.7,625.4 828.5,631.1 819.7,627.9 822.2,634.8 815.9,636.7 814.0,638.6 818.4,649.9 811.5,650.6 801.4,643.6 798.9,634.2 795.8,621.6 787.6,609.1" fill="#e12133" stroke="#e12133" stroke-width="0.5" stroke-linejoin="round"/>
<polygon points="826.8,662.8 831.0,666.2 841.8,666.2 850.2,667.9 856.1,669.5 856.1,672.1 848.5,671.2 840.2,672.6 836.0,669.5 825.9,667.0" fill="#e12133" stroke="#e12133" stroke-width="0.5" stroke-linejoin="round"/>
<polygon points="931.4,671.2 938.9,668.7 947.3,667.9 955.6,663.7 950.6,670.4 947.3,675.4 938.9,677.1 933.9,675.4" fill="#ee838d" stroke="#ee838d" stroke-width="0.5" stroke-linejoin="round"/>
<g mask="url(#lm)">
<polygon points="684.9,153.0 685.5,166.7 691.0,179.3 688.5,203.6 681.0,220.3 673.5,237.9 680.4,261.4 689.2,287.8 696.1,314.8 708.1,314.2 713.1,309.8 715.0,299.1 730.7,299.1 737.6,281.5 742.0,240.4 755.5,234.5 765.5,207.7 755.5,197.7 745.8,177.6 751.3,153.0" fill="none" stroke="#fce9e9" stroke-opacity="0.9" stroke-width="1.15" stroke-linejoin="round"/>
<polygon points="797.6,153.0 798.7,191.8 810.1,201.0 816.0,213.6 855.3,200.2 880.4,199.4 913.9,153.0" fill="none" stroke="#fce9e9" stroke-opacity="0.9" stroke-width="1.15" stroke-linejoin="round"/>
<polygon points="822.7,230.3 852.0,222.0 863.7,225.3 879.6,226.2 872.0,241.2 874.6,260.5 870.4,269.5 858.7,269.5 844.4,258.0 834.4,262.1 835.2,249.6 831.0,251.3 823.5,243.7" fill="none" stroke="#fce9e9" stroke-opacity="0.9" stroke-width="1.15" stroke-linejoin="round"/>
<polygon points="795.9,301.0 795.1,286.8 800.9,271.7 811.5,265.0 821.0,280.9 831.5,280.9 834.4,262.1 844.4,258.0 858.7,269.5 870.4,269.5 875.4,275.9 880.1,298.5 860.3,310.2 853.6,302.7 842.3,299.3 839.4,295.1 827.7,296.8 805.9,296.0" fill="none" stroke="#fce9e9" stroke-opacity="0.9" stroke-width="1.15" stroke-linejoin="round"/>
<polygon points="795.9,301.0 805.9,296.0 827.7,296.8 839.4,295.1 842.3,299.3 853.6,302.7 860.3,310.2 859.5,320.3 851.1,326.9 848.3,339.5 836.1,345.4 824.4,346.2 821.8,340.3 814.8,337.3 815.1,326.1 797.6,319.4" fill="none" stroke="#fce9e9" stroke-opacity="0.9" stroke-width="1.15" stroke-linejoin="round"/>
<polygon points="711.9,350.1 726.9,340.9 751.2,328.0 760.4,329.2 765.4,335.9 779.7,336.7 813.1,338.4 821.8,340.3 824.4,346.2 823.2,358.5 827.4,366.0 825.7,371.0 820.7,374.4 824.9,386.9 824.9,393.6 829.0,409.5 827.4,416.2 818.2,425.4 812.3,435.5 812.3,439.7 800.6,434.6 794.7,436.3 786.4,434.6 779.7,438.0 773.8,433.0 767.1,435.5 762.9,427.1 751.2,422.9 750.4,417.9 744.5,416.2 740.3,419.6 734.5,416.2 734.5,411.2 724.4,407.9 717.7,397.0 715.2,384.4 714.4,371.9 710.2,365.2 712.7,360.2" fill="none" stroke="#fce9e9" stroke-opacity="0.9" stroke-width="1.15" stroke-linejoin="round"/>
<polygon points="624.5,352.6 631.2,350.5 635.4,351.0 638.7,354.3 646.3,345.1 643.8,337.6 643.3,324.9 651.4,327.4 657.7,325.5 659.5,334.0 669.7,337.2 671.4,343.4 678.9,341.8 690.6,336.7 703.2,343.4 711.9,350.1 712.7,360.2 710.2,365.2 714.4,371.9 715.2,384.4 717.7,397.0 724.4,407.9 717.7,404.5 712.7,402.8 710.2,406.2 696.8,413.7 688.5,419.6 691.0,430.5 701.8,440.5 702.1,446.7 697.1,455.1 695.4,469.3 688.7,466.0 678.7,468.5 666.9,469.3 666.1,471.0 655.2,470.2 644.4,464.3 641.0,467.7 629.3,466.8 630.1,456.8 636.0,441.7 623.7,438.0 614.5,433.8 616.2,427.1 613.6,420.4 613.6,407.0 612.0,395.3 612.8,387.8 619.5,386.9 622.0,375.2 624.5,361.8" fill="none" stroke="#fce9e9" stroke-opacity="0.9" stroke-width="1.15" stroke-linejoin="round"/>
<polygon points="666.5,265.2 666.5,274.0 662.8,284.0 664.7,289.7 670.9,293.5 667.8,299.1 664.0,297.2 657.7,306.7 655.8,314.2 657.7,325.5 651.4,327.4 643.3,324.9 637.6,314.2 637.6,290.3 642.0,280.3 654.0,277.7 659.0,270.8" fill="none" stroke="#fce9e9" stroke-opacity="0.9" stroke-width="1.15" stroke-linejoin="round"/>
<polygon points="672.2,308.6 688.6,301.0 691.7,311.1 684.8,326.8 672.8,314.2" fill="none" stroke="#fce9e9" stroke-opacity="0.9" stroke-width="1.15" stroke-linejoin="round"/>
<polygon points="624.5,356.0 613.6,358.5 596.9,364.4 594.4,375.2 588.5,388.6 581.8,397.8 590.2,398.7 598.6,396.2 604.4,400.3 606.9,405.4 613.6,407.0 612.0,395.3 612.8,387.8 619.5,386.9 622.0,375.2 624.5,361.8" fill="none" stroke="#fce9e9" stroke-opacity="0.9" stroke-width="1.15" stroke-linejoin="round"/>
<polygon points="581.8,397.8 570.1,402.0 571.0,408.7 576.0,409.5 581.0,415.4 587.7,422.1 597.7,424.6 604.4,430.5 607.8,427.1 609.5,421.3 613.6,420.4 613.6,407.0 606.9,405.4 604.4,400.3 598.6,396.2 590.2,398.7" fill="none" stroke="#fce9e9" stroke-opacity="0.9" stroke-width="1.15" stroke-linejoin="round"/>
<polygon points="609.5,421.3 613.6,420.4 616.2,427.1 614.5,433.8 610.3,434.6 604.4,430.5 607.8,427.1" fill="none" stroke="#fce9e9" stroke-opacity="0.9" stroke-width="1.15" stroke-linejoin="round"/>
<polygon points="570.1,402.0 560.1,405.4 556.5,421.2 527.2,436.3 516.3,429.6 519.4,449.2 499.3,445.1 485.1,448.4 485.1,461.0 502.7,467.7 513.6,480.2 525.3,493.6 522.8,530.4 516.9,539.6 520.3,545.5 540.3,553.0 556.2,555.2 575.5,554.7 575.5,545.5 592.2,540.5 619.0,543.8 627.4,536.3 629.3,533.8 630.1,528.7 625.1,525.4 621.8,512.8 625.1,507.8 621.8,502.0 622.6,496.9 617.6,489.4 611.7,489.4 612.3,484.4 620.7,470.2 628.2,467.7 629.3,466.8 630.1,456.8 636.0,441.7 623.7,438.0 614.5,433.8 610.3,434.6 604.4,430.5 597.7,424.6 587.7,422.1 581.0,415.4 576.0,409.5 571.0,408.7" fill="none" stroke="#fce9e9" stroke-opacity="0.9" stroke-width="1.15" stroke-linejoin="round"/>
<polygon points="644.3,555.9 652.6,548.4 654.3,559.2 651.0,571.0 646.8,568.5 643.4,560.9" fill="none" stroke="#fce9e9" stroke-opacity="0.9" stroke-width="1.15" stroke-linejoin="round"/>
<polygon points="426.8,546.7 442.7,535.9 468.6,537.5 487.0,540.0 516.3,540.0 520.5,545.1 542.3,552.6 557.3,554.8 574.9,555.1 574.9,564.3 564.9,575.2 548.1,578.5 538.9,596.9 535.6,606.2 539.7,614.5 532.2,623.7 530.5,631.3 520.5,635.4 513.0,645.5 485.4,647.2 472.8,656.4 464.4,649.7 459.4,642.1 448.5,640.5 448.5,635.4 454.4,625.4 450.2,621.2 453.6,611.2 448.5,602.0 453.6,596.9 456.1,576.9 461.1,573.2 458.6,566.0 451.9,565.1 442.7,567.2 439.3,559.8 430.1,565.1 429.8,553.4" fill="none" stroke="#fce9e9" stroke-opacity="0.9" stroke-width="1.15" stroke-linejoin="round"/>
<polygon points="430.1,565.1 439.3,559.8 442.7,567.2 451.9,565.1 458.6,566.0 461.1,573.2 456.1,576.9 453.6,596.9 448.5,602.0 453.6,611.2 450.2,621.2 454.4,625.4 448.5,635.4 448.5,640.5 443.5,643.8 439.3,642.1 432.6,643.0 431.8,620.4 426.8,620.4 424.8,608.7 430.1,600.3 434.3,581.9" fill="none" stroke="#fce9e9" stroke-opacity="0.9" stroke-width="1.15" stroke-linejoin="round"/>
<polygon points="446.9,322.1 422.6,347.0 427.6,367.7 419.7,387.7 435.1,391.1 456.1,379.4 464.4,361.8 462.8,346.5 454.4,343.6 447.7,343.6 449.4,333.8" fill="none" stroke="#fce9e9" stroke-opacity="0.9" stroke-width="1.15" stroke-linejoin="round"/>
<polygon points="688.5,419.6 696.8,413.7 710.2,406.2 712.7,402.8 717.7,404.5 724.4,407.9 734.5,411.2 734.5,416.2 740.3,419.6 744.5,416.2 750.4,417.9 751.2,422.9 762.9,427.1 767.1,435.5 760.4,437.2 755.4,443.8 743.7,447.2 738.9,445.9 729.7,445.9 723.8,441.7 717.2,444.2 713.8,449.2 702.1,446.7 701.8,440.5 691.0,430.5" fill="none" stroke="#fce9e9" stroke-opacity="0.9" stroke-width="1.15" stroke-linejoin="round"/>
<polygon points="743.7,447.2 755.4,443.8 760.4,437.2 767.1,435.5 773.8,433.0 779.7,438.0 786.4,434.6 794.7,436.3 800.6,434.6 812.3,439.7 805.9,452.8 800.1,452.8 790.9,449.5 783.3,453.6 780.8,454.3 769.0,456.8 765.7,461.0 758.2,463.5 750.6,459.3 744.8,461.0 743.9,456.8" fill="none" stroke="#fce9e9" stroke-opacity="0.9" stroke-width="1.15" stroke-linejoin="round"/>
<polygon points="744.8,461.0 750.6,459.3 758.2,463.5 765.7,461.0 769.0,456.8 780.8,454.3 783.3,453.6 790.9,449.5 800.1,452.8 805.9,452.8 816.0,460.3 806.8,467.9 801.8,480.4 794.2,490.5 786.0,494.4 775.5,494.5 769.5,497.5 766.0,500.0 754.0,497.8 745.6,492.8 739.7,486.9 738.1,483.6 735.6,478.5 738.9,471.8 738.9,466.0" fill="none" stroke="#fce9e9" stroke-opacity="0.9" stroke-width="1.15" stroke-linejoin="round"/>
<polygon points="656.1,471.0 666.1,471.5 666.9,469.3 678.7,468.5 688.7,466.0 695.4,469.3 697.1,455.1 702.1,446.7 713.8,449.2 717.2,444.2 723.8,441.7 729.7,445.9 738.9,445.9 743.7,447.2 743.9,456.8 744.8,461.0 738.9,466.0 738.9,471.8 735.6,478.5 738.1,483.6 727.2,484.4 717.2,487.7 705.4,487.7 696.2,483.6 687.0,478.5 673.6,480.2 672.8,482.7 665.3,481.0 656.1,477.7 656.9,475.2" fill="none" stroke="#fce9e9" stroke-opacity="0.9" stroke-width="1.15" stroke-linejoin="round"/>
<polygon points="622.6,496.9 630.1,499.5 640.2,494.4 645.2,495.3 650.2,490.3 656.9,490.3 664.4,488.6 665.3,481.0 672.8,482.7 673.6,480.2 687.0,478.5 696.2,483.6 705.4,487.7 706.3,496.1 708.0,502.0 697.1,501.1 690.4,505.3 687.9,510.3 688.7,523.7 700.4,533.8 707.0,546.0 713.7,556.7 722.1,565.9 731.3,565.1 733.8,566.8 730.5,569.3 734.6,571.8 743.8,579.3 753.9,585.2 762.3,592.7 760.6,596.1 753.9,590.2 743.0,589.4 738.8,599.4 745.5,605.3 744.7,611.1 739.7,613.6 733.8,627.0 729.6,626.2 735.5,612.0 730.5,596.9 722.1,591.9 718.7,586.0 711.2,581.8 704.5,576.0 693.6,572.6 676.9,558.4 667.7,548.4 664.4,541.3 662.8,530.4 651.9,527.9 641.8,526.2 636.8,529.6 629.3,533.8 630.1,528.7 625.1,525.4 621.8,512.8 625.1,507.8 621.8,502.0" fill="none" stroke="#fce9e9" stroke-opacity="0.9" stroke-width="1.15" stroke-linejoin="round"/>
<polygon points="690.3,626.2 707.0,627.0 725.4,623.7 721.3,637.1 723.8,640.4 721.3,647.1 711.2,640.4 699.5,636.2 690.3,632.1" fill="none" stroke="#fce9e9" stroke-opacity="0.9" stroke-width="1.15" stroke-linejoin="round"/>
<polygon points="639.2,581.8 650.1,577.7 656.0,586.9 656.0,606.9 649.3,607.8 645.9,611.1 641.8,607.8 641.8,593.6" fill="none" stroke="#fce9e9" stroke-opacity="0.9" stroke-width="1.15" stroke-linejoin="round"/>
<polygon points="705.4,487.7 717.2,487.7 727.2,484.4 738.1,483.6 739.7,486.9 732.2,490.3 724.7,496.9 725.5,502.0 723.8,505.3 716.3,503.6 712.1,506.2 708.0,502.0 706.3,496.1" fill="none" stroke="#fce9e9" stroke-opacity="0.9" stroke-width="1.15" stroke-linejoin="round"/>
<polygon points="739.7,486.9 745.6,492.8 754.0,497.8 766.0,500.0 767.2,499.5 769.7,505.8 772.2,512.1 770.9,513.3 761.5,511.4 745.2,510.2 732.6,509.6 730.1,514.0 735.1,522.8 740.8,532.2 751.4,541.6 761.5,550.4 762.8,553.6 755.2,549.2 745.2,541.6 736.4,534.1 728.8,527.8 723.8,520.4 720.3,507.4 714.0,505.6 711.6,508.2 708.7,514.5 704.8,507.5 705.4,506.2 712.1,506.2 716.3,503.6 723.8,505.3 725.5,502.0 724.7,496.9 732.2,490.3" fill="none" stroke="#fce9e9" stroke-opacity="0.9" stroke-width="1.15" stroke-linejoin="round"/>
<polygon points="786.0,494.4 794.2,490.5 801.8,480.4 806.8,467.9 816.0,460.3 820.2,459.5 833.6,462.0 840.3,465.4 854.5,460.3 861.2,457.0 878.7,480.4 880.4,503.8 886.3,508.4 892.1,505.9 897.2,509.2 896.3,512.6 890.5,514.3 887.1,515.1 884.6,535.2 867.9,527.7 856.2,531.0 847.8,536.0 830.2,532.7 816.0,533.5 811.8,528.5 811.0,524.3 814.3,521.0 811.8,517.6 806.8,520.1 801.8,517.6 799.2,510.1 793.4,506.7 791.7,501.7" fill="none" stroke="#fce9e9" stroke-opacity="0.9" stroke-width="1.15" stroke-linejoin="round"/>
<polygon points="811.8,528.5 816.0,533.5 830.2,532.7 847.8,536.0 856.2,531.0 867.9,527.7 884.6,535.2 879.6,543.6 874.6,553.6 877.1,562.0 865.4,562.8 857.8,567.8 856.8,568.2 856.8,574.5 843.6,575.7 835.4,571.1 827.9,573.8 816.9,573.0 816.9,565.5 812.5,558.6 811.8,554.2 813.7,550.4 818.1,542.9 813.1,536.6 811.2,530.3" fill="none" stroke="#fce9e9" stroke-opacity="0.9" stroke-width="1.15" stroke-linejoin="round"/>
<polygon points="783.8,600.9 790.1,590.8 794.5,583.9 807.1,578.2 815.9,575.1 827.9,573.8 835.4,571.1 843.6,575.7 856.4,574.5 856.2,567.7 861.4,570.5 856.6,580.8 850.5,581.4 841.7,580.8 827.2,582.6 825.3,585.8 832.9,593.3 829.1,595.2 821.6,594.6 815.9,588.3 813.4,593.3 815.3,601.5 821.6,607.8 817.2,611.6 829.7,625.4 828.5,631.1 819.7,627.9 822.2,634.8 815.9,636.7 814.0,638.6 818.4,649.9 811.5,650.6 801.4,643.6 798.9,634.2 795.8,621.6 787.6,609.1" fill="none" stroke="#fce9e9" stroke-opacity="0.9" stroke-width="1.15" stroke-linejoin="round"/>
<polygon points="826.8,662.8 831.0,666.2 841.8,666.2 850.2,667.9 856.1,669.5 856.1,672.1 848.5,671.2 840.2,672.6 836.0,669.5 825.9,667.0" fill="none" stroke="#fce9e9" stroke-opacity="0.9" stroke-width="1.15" stroke-linejoin="round"/>
<polygon points="931.4,671.2 938.9,668.7 947.3,667.9 955.6,663.7 950.6,670.4 947.3,675.4 938.9,677.1 933.9,675.4" fill="none" stroke="#fce9e9" stroke-opacity="0.9" stroke-width="1.15" stroke-linejoin="round"/>
</g>
<circle cx="557.6" cy="554.8" r="1.6" fill="#f6c9cc" stroke="#fbe4e4" stroke-width="0.6"/>
</g>
<defs><clipPath id="c20"><rect x="660" y="500" width="22" height="10.4"/></clipPath></defs>
<g><text transform="translate(712.2,250.1) scale(1.13,1)" text-anchor="middle" font-size="10.4" fill="#66141f" stroke="#66141f" stroke-width="0.2" letter-spacing="0.45"><tspan letter-spacing="-0.9">1</tspan>6</text></g>
<g><text transform="translate(862.2,250.2) scale(1.13,1)" text-anchor="middle" font-size="10.4" fill="#66141f" stroke="#66141f" stroke-width="0.2" letter-spacing="0.45">20</text></g>
<g><text transform="translate(866.2,290.8) scale(1.13,1)" text-anchor="middle" font-size="10.4" fill="#66141f" stroke="#66141f" stroke-width="0.2" letter-spacing="0.45">20</text></g>
<g><text transform="translate(828.2,325.8) scale(1.13,1)" text-anchor="middle" font-size="10.4" fill="#66141f" stroke="#66141f" stroke-width="0.2" letter-spacing="0.45">20</text></g>
<g><text transform="translate(652.2,302.8) scale(1.13,1)" text-anchor="middle" font-size="10.4" fill="#66141f" stroke="#66141f" stroke-width="0.2" letter-spacing="0.45"><tspan letter-spacing="-0.9">1</tspan>2</text></g>
<g><text transform="translate(442.9,366.8) scale(1.13,1)" text-anchor="middle" font-size="10.4" fill="#66141f" stroke="#66141f" stroke-width="0.2" letter-spacing="0.45">26</text></g>
<g><text transform="translate(603.0,386.6) scale(1.13,1)" text-anchor="middle" font-size="10.4" fill="#66141f" stroke="#66141f" stroke-width="0.2" letter-spacing="0.45">20</text></g>
<g><text transform="translate(595.8,416.6) scale(1.13,1)" text-anchor="middle" font-size="10.4" fill="#66141f" stroke="#66141f" stroke-width="0.2" letter-spacing="0.45">23</text></g>
<g><text transform="translate(608.7,433.6) scale(1.13,1)" text-anchor="middle" font-size="10.4" fill="#2b2528" stroke="#2b2528" stroke-width="0.2" letter-spacing="0.45"><tspan letter-spacing="-0.9">1</tspan>7</text></g>
<g><text transform="translate(658.5,405.8) scale(1.13,1)" text-anchor="middle" font-size="10.4" fill="#66141f" stroke="#66141f" stroke-width="0.2" letter-spacing="0.45"><tspan letter-spacing="-0.9">1</tspan>9</text></g>
<g><text transform="translate(773.5,386.6) scale(1.13,1)" text-anchor="middle" font-size="10.4" fill="#66141f" stroke="#66141f" stroke-width="0.2" letter-spacing="0.45"><tspan letter-spacing="-0.9">1</tspan>7</text></g>
<g><text transform="translate(728.0,431.1) scale(1.13,1)" text-anchor="middle" font-size="10.4" fill="#66141f" stroke="#66141f" stroke-width="0.2" letter-spacing="0.45">28</text></g>
<g><text transform="translate(776.5,451.9) scale(1.13,1)" text-anchor="middle" font-size="10.4" fill="#66141f" stroke="#66141f" stroke-width="0.2" letter-spacing="0.45">27</text></g>
<g><text transform="translate(710.2,472.6) scale(1.13,1)" text-anchor="middle" font-size="10.4" fill="#66141f" stroke="#66141f" stroke-width="0.2" letter-spacing="0.45"><tspan letter-spacing="-0.9">1</tspan>2</text></g>
<g><text transform="translate(788.0,479.9) scale(1.13,1)" text-anchor="middle" font-size="10.4" fill="#2b2528" stroke="#2b2528" stroke-width="0.2" letter-spacing="0.45">9</text></g>
<g><text transform="translate(722.7,498.1) scale(1.13,1)" text-anchor="middle" font-size="10.4" fill="#66141f" stroke="#66141f" stroke-width="0.2" letter-spacing="0.45"><tspan letter-spacing="-0.9">1</tspan>8</text></g>
<g><text transform="translate(735.5,500.8) scale(1.13,1)" text-anchor="middle" font-size="10.4" fill="#66141f" stroke="#66141f" stroke-width="0.2" letter-spacing="0.45"><tspan letter-spacing="-0.9">1</tspan>8</text></g>
<g><text transform="translate(568.2,490.1) scale(1.13,1)" text-anchor="middle" font-size="10.4" fill="#66141f" stroke="#66141f" stroke-width="0.2" letter-spacing="0.45">29</text></g>
<g clip-path="url(#c20)"><text transform="translate(670.5,511.6) scale(1.13,1)" text-anchor="middle" font-size="10.4" fill="#66141f" stroke="#66141f" stroke-width="0.2" letter-spacing="0.45">20</text></g>
<g><text transform="translate(650.0,528.4) scale(1.13,1)" text-anchor="middle" font-size="10.4" fill="#2b2528" stroke="#2b2528" stroke-width="0.2" letter-spacing="0.45"><tspan letter-spacing="-0.9">1</tspan>8</text></g>
<g><text transform="translate(842.2,503.2) scale(1.13,1)" text-anchor="middle" font-size="10.4" fill="#66141f" stroke="#66141f" stroke-width="0.2" letter-spacing="0.45">23</text></g>
<g><text transform="translate(828.8,556.8) scale(1.13,1)" text-anchor="middle" font-size="10.4" fill="#66141f" stroke="#66141f" stroke-width="0.2" letter-spacing="0.45">24</text></g>
<g><text transform="translate(495.9,596.0) scale(1.13,1)" text-anchor="middle" font-size="10.4" fill="#66141f" stroke="#66141f" stroke-width="0.2" letter-spacing="0.45">26</text></g>
<g><text transform="translate(439.1,619.8) scale(1.13,1)" text-anchor="middle" font-size="10.4" fill="#66141f" stroke="#66141f" stroke-width="0.2" letter-spacing="0.45">29</text></g>
<g><text transform="translate(808.6,624.8) scale(1.13,1)" text-anchor="middle" font-size="10.4" fill="#7d0d19" stroke="#7d0d19" stroke-width="0.2" letter-spacing="0.45">55</text></g>
<g><text transform="translate(714.0,671.8) scale(1.13,1)" text-anchor="middle" font-size="10.4" fill="#2b2528" stroke="#2b2528" stroke-width="0.2" letter-spacing="0.45">20</text></g>
<g><text transform="translate(942.5,676.8) scale(1.13,1)" text-anchor="middle" font-size="10.4" fill="#66141f" stroke="#66141f" stroke-width="0.2" letter-spacing="0.45">28</text></g>
</g>
<defs><clipPath id="lg"><rect x="228" y="691.6" width="755" height="8" rx="4" ry="4"/></clipPath></defs>
<g clip-path="url(#lg)">
<rect x="228" y="691" width="151" height="9" fill="#f9e3e2"/>
<rect x="379" y="691" width="151" height="9" fill="#f4b4b9"/>
<rect x="530" y="691" width="151" height="9" fill="#ee838d"/>
<rect x="681" y="691" width="151" height="9" fill="#e75465"/>
<rect x="832" y="691" width="151" height="9" fill="#e12133"/>
</g>
</svg>
<div class="abs pill"></div>
<div class="abs pilltxt">Európa Projekt</div>
<div class="abs title" id="title">Megfelelően tudják a lakásukat fűteni?* (%)</div>
<div class="abs r1"></div>
<div class="abs sub" id="sub">Az uniós tagállamok kétharmadában a lakosság legalább ötöde fűtési nehézségekkel küzd</div>
<div class="abs r2"></div>
<div class="abs note" id="note">*a "nem" választ megjelölök aránya országonként</div>
<div class="abs lg" id="l0" style="left:227.6px">0</div>
<div class="abs lg" id="l1" style="left:374.2px">10</div>
<div class="abs lg" id="l2" style="left:526.6px">20</div>
<div class="abs lg" id="l3" style="left:677px">30</div>
<div class="abs lg" id="l4" style="left:828px">40</div>
<div class="abs lg" id="l5" style="left:965px">50</div>
<div class="abs r3"></div>
<div class="abs szv" id="szv"><span style="font-size:33px">S</span><span style="font-size:27px">ZÁZADVÉG</span></div>
<svg class="abs" style="left:420px;top:736px" width="24" height="24" viewBox="0 0 24 24">
<defs><filter id="bl"><feGaussianBlur stdDeviation="0.7"/></filter></defs>
<path d="M5.5 11 L6.5 7.5 L9.5 5 L13 4.3 L16.5 5.5 L18.3 8.5 L18 12.5 L16 15.5 L13 18 L10.5 18.3 L9 15.5 L6.5 14.5 Z" fill="#edbf3c" opacity="0.92" filter="url(#bl)"/>
<path d="M11.7 6.9 a2.75 2.75 0 0 1 2.75 2.75 c0 1.9 -2.75 5.2 -2.75 5.2 s-2.75 -3.3 -2.75 -5.2 a2.75 2.75 0 0 1 2.75 -2.75 z" fill="#3a1616"/>
<circle cx="11.7" cy="9.6" r="1.15" fill="#fff"/>
</svg>
<div class="abs ep1" id="ep1">EUR<span style="display:inline-block;width:12.5px"></span>PA</div>
<div class="abs ep2" id="ep2">PROJEKT</div>
<div class="abs src" id="src">Forrás: Századvég, Európa Projekt, 2023</div>
</body></html>
